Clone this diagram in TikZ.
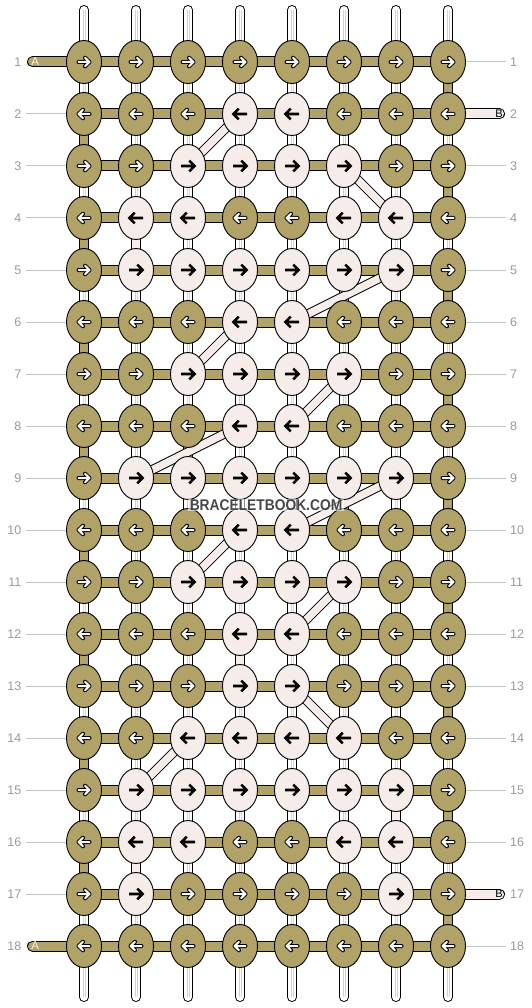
\documentclass[tikz,border=0pt]{standalone}
\usepackage{fontspec}
\setmainfont{Liberation Sans}
\usetikzlibrary{shapes.geometric}
\definecolor{khaki}{HTML}{B1A268}
\definecolor{pinkb}{HTML}{F6ECEA}
\definecolor{numgray}{HTML}{9A9A9A}
\definecolor{leadgray}{HTML}{C4C4C4}
\definecolor{threadgray}{HTML}{D2D2D2}
\definecolor{cream}{HTML}{F8F3E2}
\tikzset{
  knot/.style={ellipse, draw=black, line width=0.9pt, fill=#1, minimum width=35pt, minimum height=43pt, inner sep=0pt},
  leader/.style={draw=leadgray, line width=1pt},
  numlbl/.style={text=numgray, inner sep=0pt, font=\fontsize{12.5}{12.5}\selectfont},
  barout/.style={draw=black, line width=11pt},
  barin/.style={draw=#1, line width=9pt},
  vout/.style={draw=black, line width=10pt},
  vin/.style={draw=#1, line width=8pt},
  diagout/.style={draw=black, line width=9.5pt},
  diagin/.style={draw=pinkb, line width=7.5pt},
  arrout/.style={draw=black, line width=4pt, line cap=round, line join=round},
  arrin/.style={draw=white, line width=2pt, line cap=round, line join=round},
  arrblk/.style={draw=black, line width=2.6pt, line cap=butt, line join=miter},
}
\begin{document}
\begin{tikzpicture}[x=1pt,y=-1pt]
\useasboundingbox (0,0) rectangle (532,1008);
\fill[white] (0,0) rectangle (532,1008);
% grid coordinates
\foreach \r in {1,...,18}{
  \foreach \c in {1,...,8}{
    \coordinate (p-\r-\c) at ({84+52*(\c-1)},{62+52*(\r-1)});
  }
  \coordinate (ll-\r) at (26,{62+52*(\r-1)});
  \coordinate (rl-\r) at (506,{62+52*(\r-1)});
}
\foreach \c in {1,...,8}{
  \coordinate (t-\c) at ({84+52*(\c-1)},10);
  \coordinate (b-\c) at ({84+52*(\c-1)},997);
}
% leader lines
\foreach \r in {2,...,17} \draw[leader] (ll-\r) -- (p-\r-1);
\foreach \r in {1,3,4,5,6,7,8,9,10,11,12,13,14,15,16,18} \draw[leader] (p-\r-8) -- (rl-\r);
% row numbers
\foreach \r in {1,...,18}{
  \node[numlbl, anchor=east] (nl-\r) at (21.5,{62+52*(\r-1)}) {\r};
  \node[numlbl, anchor=west] (nr-\r) at (510,{62+52*(\r-1)}) {\r};
}
% vertical threads
\foreach \c in {1,...,8}{
  \draw[line width=10pt, black, line cap=round] (t-\c) -- (b-\c);
  \draw[line width=8pt, white, line cap=round] (t-\c) -- (b-\c);
  \draw[threadgray, line width=0.6pt] ([xshift=-1.2pt]t-\c) -- ([xshift=-1.2pt]b-\c);
  \draw[threadgray, line width=0.6pt] ([xshift=1.4pt]t-\c) -- ([xshift=1.4pt]b-\c);
}
% coloured vertical segments
\foreach \r/\c/\col in {2/1/khaki,4/1/khaki,6/1/khaki,8/1/khaki,10/1/khaki,12/1/khaki,14/1/khaki,16/1/khaki,
  1/8/khaki,3/8/khaki,5/8/khaki,7/8/khaki,9/8/khaki,11/8/khaki,13/8/khaki,15/8/khaki,17/8/khaki,
  4/2/pinkb,12/4/pinkb,15/7/pinkb,16/2/pinkb}{
  \pgfmathtruncatemacro\n{\r+1}
  \draw[vout] (p-\r-\c) -- (p-\n-\c);
  \draw[vin=\col] (p-\r-\c) -- (p-\n-\c);
}
% horizontal bars
\foreach \r in {1,...,18}{
  \draw[barout] (p-\r-1) -- (p-\r-8);
  \draw[barin=khaki] (p-\r-1) -- (p-\r-8);
}
% thread ends A and B
\coordinate (ea-1) at (32.5,62);
\coordinate (ea-18) at (32.5,946);
\coordinate (eb-2) at (499.5,114);
\coordinate (eb-17) at (499.5,894);
\foreach \r in {1,18}{
  \draw[barout, line cap=round] (ea-\r) -- (p-\r-1);
  \draw[barin=khaki, line cap=round] (ea-\r) -- (p-\r-1);
  \node[text=cream, inner sep=0pt, font=\fontsize{11.5}{11.5}\selectfont] (la-\r) at (35.2,{62+52*(\r-1)}) {A};
}
\foreach \r in {2,17}{
  \draw[barout, line cap=round] (p-\r-8) -- (eb-\r);
  \draw[barin=pinkb, line cap=round] (p-\r-8) -- (eb-\r);
  \node[text=black, inner sep=0pt, font=\fontsize{11}{11}\selectfont] (lb-\r) at (499,{62+52*(\r-1)}) {B};
}
% diagonal B strands
\foreach \ra/\ca/\rb/\cb in {2/4/3/3,3/6/4/7,5/7/6/5,6/4/7/3,7/6/8/5,8/4/9/2,9/7/10/5,10/4/11/3,11/6/12/5,13/5/14/6,14/3/15/2}{
  \draw[diagout] (p-\ra-\ca) -- (p-\rb-\cb);
  \draw[diagin] (p-\ra-\ca) -- (p-\rb-\cb);
}
% knots
\foreach \r/\pat in {
  1/{0,0,0,0,0,0,0,0},
  2/{0,0,0,1,1,0,0,0},
  3/{0,0,1,1,1,1,0,0},
  4/{0,1,1,0,0,1,1,0},
  5/{0,1,1,1,1,1,1,0},
  6/{0,0,0,1,1,0,0,0},
  7/{0,0,1,1,1,1,0,0},
  8/{0,0,0,1,1,0,0,0},
  9/{0,1,1,1,1,1,1,0},
  10/{0,0,0,1,1,0,0,0},
  11/{0,0,1,1,1,1,0,0},
  12/{0,0,0,1,1,0,0,0},
  13/{0,0,0,1,1,0,0,0},
  14/{0,0,1,1,1,1,0,0},
  15/{0,1,1,1,1,1,1,0},
  16/{0,1,1,0,0,1,1,0},
  17/{0,1,0,0,0,0,1,0},
  18/{0,0,0,0,0,0,0,0}}{
  \foreach \c in {1,...,8}{
    \pgfmathtruncatemacro\t{{\pat}[\c-1]}
    \ifnum\t=0 \def\kc{khaki}\else\def\kc{pinkb}\fi
    \node[knot=\kc] (k-\r-\c) at (p-\r-\c) {};
    \ifodd\r\relax \def\dr{1}\else\def\dr{-1}\fi
    \begin{scope}[shift={(p-\r-\c)}, xscale=\dr]
      \ifnum\t=0
        \draw[arrout] (-5.5,0) -- (5.5,0) (1,-4.3) -- (5.5,0) -- (1,4.3);
        \draw[arrin] (-5.5,0) -- (5.5,0) (1,-4.3) -- (5.5,0) -- (1,4.3);
      \else
        \draw[arrblk] (-7,0) -- (6,0) (1.2,-5.4) -- (6.6,0) -- (1.2,5.4);
      \fi
    \end{scope}
  }
}
% watermark
\node[fill=white, fill opacity=0.55, text opacity=1, text=black!72, inner xsep=1.5pt, inner ysep=1pt,
  font=\bfseries\fontsize{15.5}{15.5}\selectfont, xscale=0.89] (wm) at (266,505) {BRACELETBOOK.COM};
\end{tikzpicture}
\end{document}
